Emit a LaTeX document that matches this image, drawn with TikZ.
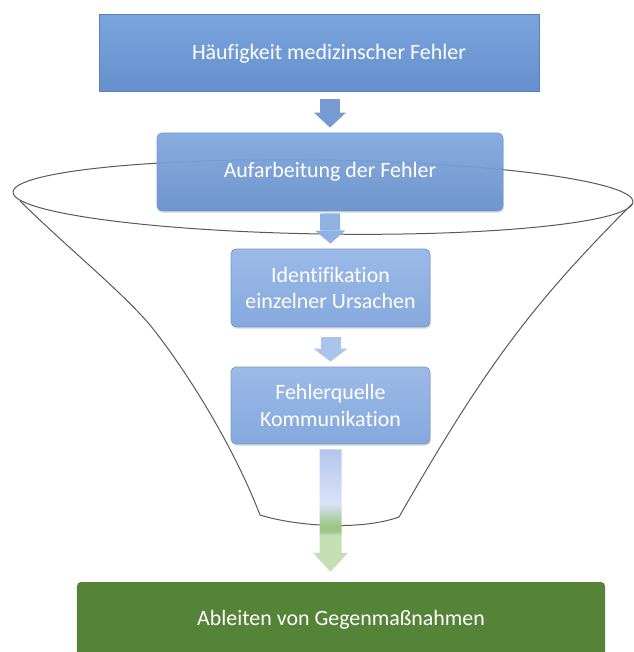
\documentclass[tikz,border=0pt]{standalone}
\usepackage{fontspec}
\setmainfont{Carlito}[Ligatures=NoCommon]
\usetikzlibrary{arrows.meta,calc,shadows}
\definecolor{topblue}{HTML}{7AA4DD}
\definecolor{lowblue}{HTML}{6690CC}
\definecolor{lineblue}{HTML}{5B81B9}
\definecolor{paleblue}{HTML}{9CBAE8}
\definecolor{softblue}{HTML}{86A8DD}
\definecolor{edgeblue}{HTML}{7B9BD0}
\definecolor{leafgreen}{HTML}{558337}
\definecolor{flowblue}{HTML}{B3C6EE}
\definecolor{mistblue}{HTML}{DAE2F7}
\definecolor{midgreen}{HTML}{9DC686}
\definecolor{lightgreen}{HTML}{C6E0B5}
\pgfdeclareverticalshading{bigflow}{100bp}{color(0bp)=(lightgreen); color(25bp)=(lightgreen);
  color(40bp)=(lightgreen); color(41.5bp)=(midgreen); color(44bp)=(midgreen);
  color(53bp)=(mistblue); color(75bp)=(flowblue); color(100bp)=(flowblue)}
\begin{document}
\begin{tikzpicture}[x=1bp,y=-1bp,
  every node/.style={text=white,font=\fontsize{22}{27}\selectfont,align=center,inner sep=0pt},
  headbox/.style={minimum width=439bp,minimum height=77bp,top color=topblue,bottom color=lowblue,draw=lineblue,line width=1bp},
  stepbox/.style={rounded corners=5bp,top color=paleblue,bottom color=softblue,draw=edgeblue,line width=0.8bp,
    drop shadow={opacity=0.2,shadow xshift=1bp,shadow yshift=-2bp}},
  endbox/.style={minimum width=528bp,minimum height=76bp,rounded corners=4bp,fill=leafgreen},
  funnel/.style={draw=black!65,line width=1bp},
  flow/.style={line width=20bp,shorten <=6bp,shorten >=5bp}]
\useasboundingbox (0,0) rectangle (634,652);
% funnel
\draw[funnel] (323,197) ellipse [x radius=310,y radius=37,rotate=-0.9];
\draw[funnel] (20,201) .. controls (70,250) and (120,290) .. (150,325) .. controls (190,375) and (235,450) .. (260,515)
  .. controls (295,526) and (360,531) .. (399,517) .. controls (485,367) and (532,304) .. (632,204);
% boxes
\node[headbox] (haeuf) at (319.5,53.5) {\hspace*{19bp}Häufigkeit medizinscher Fehler};
\node[stepbox,minimum width=346bp,minimum height=78bp,top color=topblue!95!white,bottom color=lowblue,
  draw=lineblue!80!white,fill opacity=0.93,text opacity=1] (aufarb) at (330,172) {Aufarbeitung der Fehler};
\node[stepbox,minimum width=199bp,minimum height=78bp] (ident) at (330.5,288) {Identifikation\\einzelner Ursachen};
\node[stepbox,minimum width=199bp,minimum height=77bp] (quelle) at (330.5,405.5) {Fehlerquelle\\Kommunikation};
\node[endbox] (gegen) at (341,620) {Ableiten von Gegenmaßnahmen};
% arrows
\draw[flow,draw=lowblue!90!white,-{Triangle[length=15bp,width=32bp,line width=0pt]}] (haeuf.south -| aufarb.north) -- (aufarb.north);
\draw[flow,draw=topblue!85!white,shorten <=2bp,-{Triangle[length=13bp,width=30bp,line width=0pt]}] (aufarb.south) -- (ident.north);
\draw[flow,draw=paleblue!85!white,shorten <=10bp,-{Triangle[length=13bp,width=34bp,line width=0pt]}] (ident.south) -- (quelle.north);
\coordinate (tipb) at (quelle.south |- gegen.north);
\shade[shading=bigflow] ($(quelle.south)+(-11,5)$) -- ($(quelle.south)+(11,5)$) -- ($(tipb)+(11,-29)$)
  -- ($(tipb)+(17.5,-29)$) -- ($(tipb)+(0,-10)$) -- ($(tipb)+(-17.5,-29)$) -- ($(tipb)+(-11,-29)$) -- cycle;
\end{tikzpicture}
\end{document}
